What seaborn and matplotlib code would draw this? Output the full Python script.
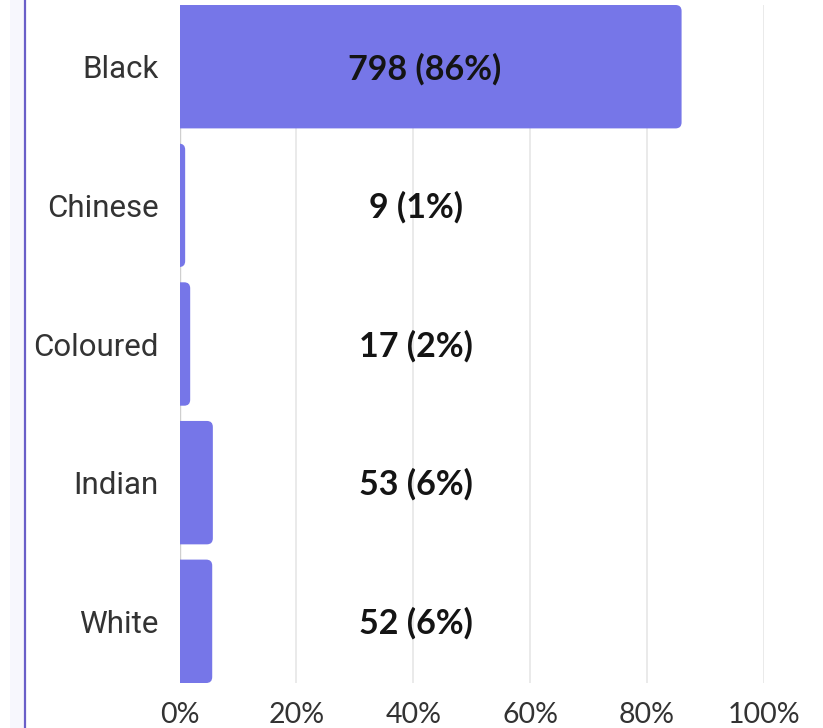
import matplotlib
matplotlib.use("Agg")
import matplotlib.pyplot as plt
import seaborn as sns
import pandas as pd
from matplotlib.patches import FancyBboxPatch, Rectangle
from matplotlib.ticker import FuncFormatter

categories = ["Black", "Chinese", "Coloured", "Indian", "White"]
counts = [798, 9, 17, 53, 52]
pct_labels = ["86%", "1%", "2%", "6%", "6%"]
xticks = [0, 20, 40, 60, 80, 100]

total = sum(counts)
df = pd.DataFrame({"category": categories,
                   "share": [c / total * 100 for c in counts]})

sns.set_theme(style="white")
plt.rcParams["font.family"] = ["Roboto", "DejaVu Sans"]

W, H = 823, 728
fig = plt.figure(figsize=(W / 100, H / 100), dpi=100)
ax = fig.add_axes([179.5 / W, 1 - 683 / H, (764 - 179.5) / W, (683 - 5) / H])

bar_color = "#7676E8"
sns.barplot(data=df, x="share", y="category", orient="h", color=bar_color,
            width=0.89, ax=ax, saturation=1, zorder=2)

# replace bars with right-rounded versions
px_x = (764 - 179.5) / 100.0
px_y = (683 - 5) / 4.89
aspect = (1 / px_y) / (1 / px_x)
rad_px = 6
for p in list(ax.patches):
    x0, y0 = p.get_x(), p.get_y()
    w, h = p.get_width(), p.get_height()
    p.remove()
    fb = FancyBboxPatch((x0 - 3, y0), w + 3, h,
                        boxstyle=f"round,pad=0,rounding_size={rad_px / px_x}",
                        mutation_aspect=aspect, facecolor=bar_color,
                        edgecolor="none", zorder=2, clip_on=True)
    ax.add_patch(fb)

ax.set_xlim(0, 100)
ax.set_ylim(4.445, -0.445)
ax.set_xticks(xticks)
ax.xaxis.set_major_formatter(FuncFormatter(lambda v, _: f"{v:.0f}%"))
ax.grid(axis="x", color="#e6e6e6", linewidth=1.2, zorder=0)
ax.grid(axis="y", visible=False)
for s in ax.spines.values():
    s.set_visible(False)
ax.axvline(0, color="#cfcfcf", linewidth=1, zorder=1)
ax.set_xlabel("")
ax.set_ylabel("")
ax.tick_params(axis="x", length=0, pad=14, labelsize=20.5, labelcolor="#333333")
ax.tick_params(axis="y", length=0, pad=15, labelsize=22.5, labelcolor="#333333")
for t in ax.get_xticklabels():
    t.set_fontfamily(["Lato", "DejaVu Sans"])

for i, (c, pl) in enumerate(zip(counts, pct_labels)):
    share = c / total * 100
    xpos = max(share / 2 - 1, 40.5)
    ax.text(xpos, i + 0.015, f"{c} ({pl})", ha="center", va="center",
            fontsize=24.5, fontweight="bold", color="#141414",
            family=["Lato", "DejaVu Sans"], zorder=3)

# left decorative strip and line
fig.patches.append(Rectangle((10 / W, 0), 14 / W, 1, transform=fig.transFigure,
                             facecolor="#f7f7fd", edgecolor="none", zorder=0))
fig.lines.append(plt.Line2D([24.5 / W, 24.5 / W], [0, 1], transform=fig.transFigure,
                            color="#6a5fc8", linewidth=1.6))

fig.savefig("out.png", dpi=100)
